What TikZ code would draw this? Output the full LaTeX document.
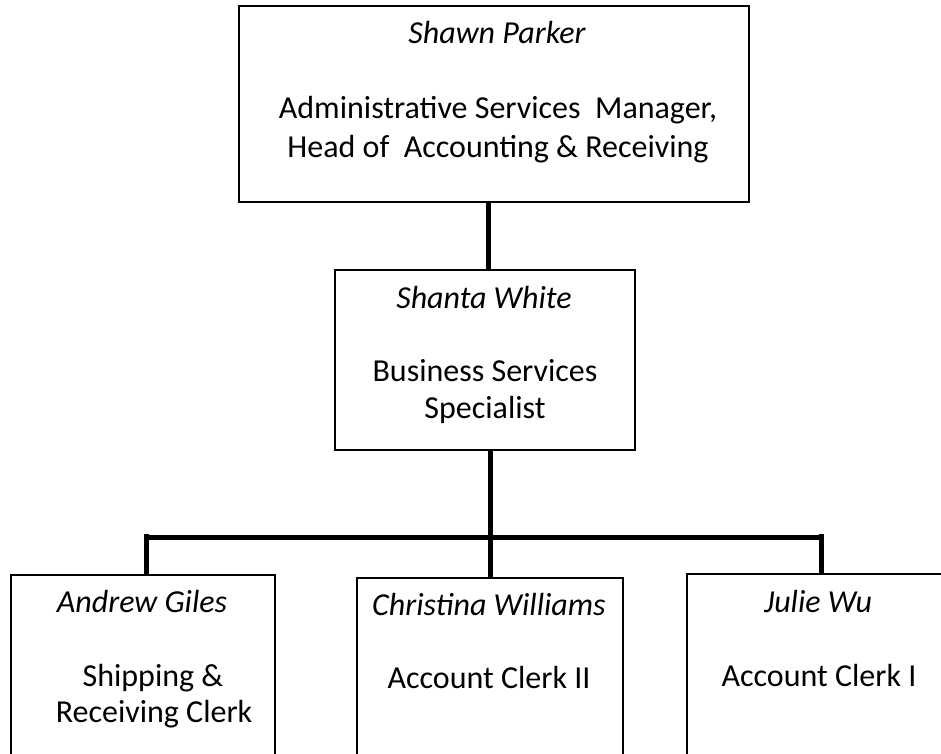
\documentclass[tikz,border=0pt]{standalone}
\usepackage{fontspec}
\setmainfont{Carlito}
\begin{document}
\begin{tikzpicture}[x=1pt,y=-1pt,
  box/.style={draw=black,line width=1.5pt,fill=white,inner sep=0pt,anchor=center},
  conn/.style={draw=black,line width=5pt},
  txt/.style={anchor=base,inner sep=0pt,font=\fontsize{32}{39}\selectfont},
  pname/.style={anchor=base,inner sep=0pt,font=\fontsize{32}{39}\selectfont\itshape}]
\useasboundingbox (0,0) rectangle (941,753);
\clip (0,0) rectangle (941,753);
% boxes
\node[box,minimum width=510pt,minimum height=196pt] (topbox) at (494,104) {};
\node[box,minimum width=300pt,minimum height=180pt] (mid) at (485,360) {};
\node[box,minimum width=264pt,minimum height=185pt] (lbox) at (143,667.5) {};
\node[box,minimum width=266pt,minimum height=182pt] (cbox) at (490,669) {};
\node[box,minimum width=258pt,minimum height=186pt] (rbox) at (816,667) {};
% connectors
\coordinate (c1) at (488,0);
\coordinate (hub) at (490,537);
\coordinate (lj) at (146,537);
\coordinate (rj) at (821,537);
\draw[conn] (topbox.south -| c1) -- (mid.north -| c1);
\draw[conn] (mid.south -| hub) -- (cbox.north -| hub);
\draw[conn] (lj) -- (rj);
\draw[conn] ([yshift=3pt]lj) -- (lj |- lbox.north);
\draw[conn] ([yshift=3pt]rj) -- (rj |- rbox.north);
% texts
\node[pname] (t1) at (497,43) {Shawn Parker};
\node[txt] (t2) at (498,118) {Administrative Services\ \ Manager,};
\node[txt] (t3) at (498,157) {Head of\ \ Accounting \& Receiving};
\node[pname] (m1) at (484,308) {Shanta White};
\node[txt] (m2) at (485,381) {Business Services};
\node[txt] (m3) at (485,418) {Specialist};
\node[pname] (l1) at (142,612) {Andrew Giles};
\node[txt] (l2) at (153,686) {Shipping \&};
\node[txt] (l3) at (154,722) {Receiving Clerk};
\node[pname] (c1t) at (489,615) {Christina Williams};
\node[txt] (c2t) at (489,688) {Account Clerk II};
\node[pname] (r1) at (818,612) {Julie Wu};
\node[txt] (r2) at (819,686) {Account Clerk I};
\end{tikzpicture}
\end{document}
